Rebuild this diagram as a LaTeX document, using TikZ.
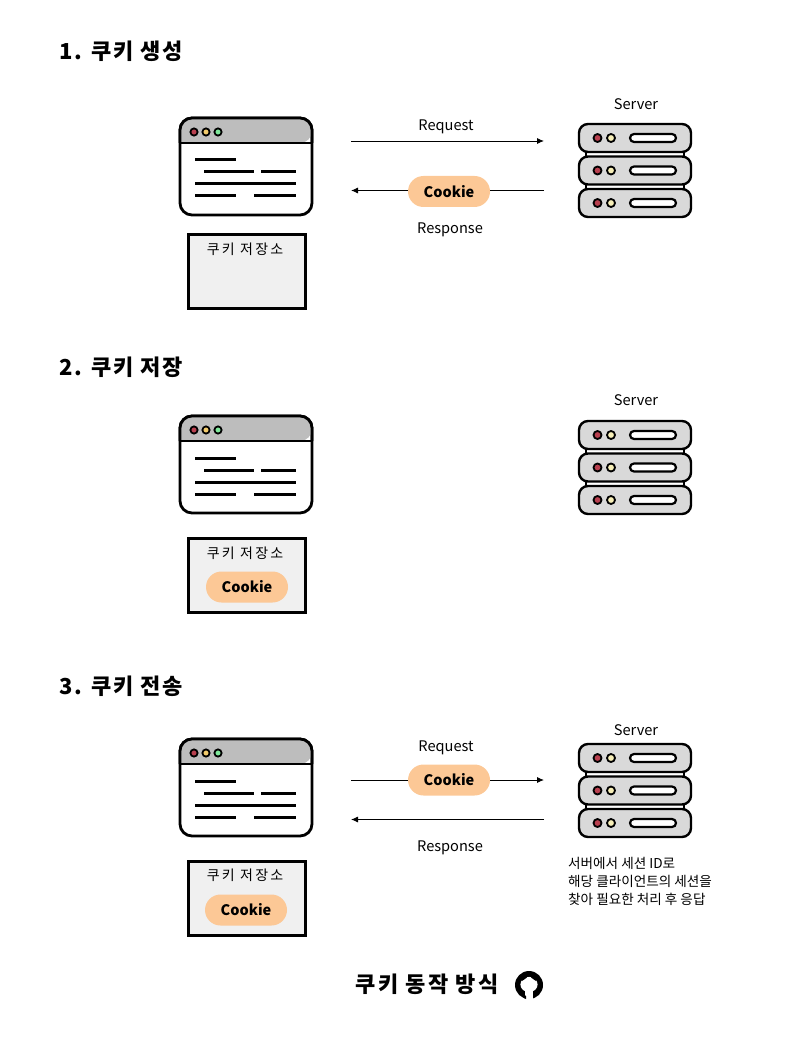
\documentclass[tikz,border=0pt]{standalone}
\usepackage{fontspec}
\setmainfont{Noto Sans CJK KR}
\usetikzlibrary{positioning,arrows.meta}

\definecolor{barGray}{HTML}{BDBDBD}
\definecolor{rackGray}{HTML}{D9D9D9}
\definecolor{boxGray}{HTML}{F0F0F0}
\definecolor{pillOrange}{HTML}{FCC896}
\definecolor{dotRed}{HTML}{B8404F}
\definecolor{dotYellow}{HTML}{F2CB6C}
\definecolor{dotGreen}{HTML}{7FE89B}
\definecolor{dotCream}{HTML}{F7EFB8}

\tikzset{
	heading/.style={anchor=west,font=\fontsize{22}{24}\selectfont\bfseries\addfontfeature{LetterSpace=8}},
	caption/.style={font=\fontsize{14.6}{16}\selectfont},
	storelabel/.style={font=\fontsize{14}{16}\selectfont\addfontfeature{LetterSpace=16}},
	cookie/.style={ % 쿠키 알약 모양
			fill=pillOrange,rounded corners=15.5pt,minimum width=82pt,minimum height=31pt,
			inner sep=0pt,font=\fontsize{14.5}{16}\selectfont\bfseries
		},
	store/.style={
			draw,line width=2.1pt,fill=boxGray,minimum width=117pt,minimum height=74pt,inner sep=0pt
		},
	flow/.style={line width=0.9pt,-{Latex[length=7pt,width=6pt]}},
	textline/.style={line width=3pt},
	% 브라우저 창
	browser/.pic={
			\draw[line width=2.8pt,fill=white,rounded corners=12pt] (0,0) rectangle (132,97);
			\fill[barGray,rounded corners=12pt] (0,25) -- (0,0) -- (132,0) -- (132,25) [sharp corners] -- cycle;
			\draw[line width=2.8pt,rounded corners=12pt] (0,25) -- (0,0) -- (132,0) -- (132,25);
			\draw[line width=2.6pt] (0,25) -- (132,25);
			\draw[line width=1.8pt,fill=dotRed] (14,14) circle (3.6);
			\draw[line width=1.8pt,fill=dotYellow] (26,14) circle (3.6);
			\draw[line width=1.8pt,fill=dotGreen] (38,14) circle (3.6);
			\draw[textline] (15,42) -- (56,42);
			\draw[textline] (24,54) -- (74,54) (81,54) -- (116,54);
			\draw[textline] (15,66) -- (116,66);
			\draw[textline] (15,78) -- (56,78) (74,78) -- (116,78);
		},
	% 서버 랙
	server/.pic={
			\draw[line width=2pt] (7,28) -- (7,33) (105,28) -- (105,33) (7,60) -- (7,65) (105,60) -- (105,65);
			\foreach \rack in {0,32.5,65}{
					\draw[line width=2.4pt,fill=rackGray,rounded corners=9pt] (0,\rack) rectangle (112,\rack+28);
					\draw[line width=1.8pt,fill=dotRed] (18.5,\rack+14) circle (4);
					\draw[line width=1.8pt,fill=dotCream] (32,\rack+14) circle (4);
					\draw[line width=2.2pt,fill=white,rounded corners=4pt] (51,\rack+10) rectangle (97,\rack+18);
				}
		}
}

\begin{document}
\begin{tikzpicture}[x=1pt,y=-1pt]
	\useasboundingbox (0,0) rectangle (794,1040);

	% 1. 쿠키 생성
	\node[heading] (t1) at (56,51) {1. 쿠키 생성};
	\pic at (180,118) {browser};
	\pic at (579,124) {server};
	\node[caption] (s1) at (636,104) {Server};
	\node[store] (b1) at (247,271.5) {};
	\node[storelabel,below=5.5pt of b1.north,xshift=-2pt] (bl1) {쿠키 저장소};
	\coordinate (ca1) at (351,141);
	\coordinate (sa1) at (544,141);
	\coordinate (sb1) at (544,190.5);
	\coordinate (cb1) at (351,190.5);
	\draw[flow] (ca1) -- (sa1);
	\draw[flow] (sb1) -- (cb1);
	\node[cookie] (k1) at (449,191.5) {Cookie};
	\node[caption] (rq1) at (446,126.5) {Request};
	\node[caption] (rs1) at (450,229.5) {Response};

	% 2. 쿠키 저장
	\node[heading] (t2) at (56,367) {2. 쿠키 저장};
	\pic at (180,416) {browser};
	\pic at (579,421) {server};
	\node[caption] (s2) at (636,400) {Server};
	\node[store] (b2) at (247,575.5) {};
	\node[storelabel,below=5.5pt of b2.north,xshift=-2pt] (bl2) {쿠키 저장소};
	\node[cookie] (k2) at (247,587) {Cookie};

	% 3. 쿠키 전송
	\node[heading] (t3) at (56,686) {3. 쿠키 전송};
	\pic at (180,739) {browser};
	\pic at (579,744) {server};
	\node[caption] (s3) at (636,730) {Server};
	\node[store] (b3) at (247,898.5) {};
	\node[storelabel,below=4.5pt of b3.north,xshift=-2pt] (bl3) {쿠키 저장소};
	\node[cookie] (k3) at (246,910) {Cookie};
	\coordinate (ca3) at (351,780);
	\coordinate (sa3) at (544,780);
	\coordinate (sb3) at (544,819.5);
	\coordinate (cb3) at (351,819.5);
	\draw[flow] (ca3) -- (sa3);
	\draw[flow] (sb3) -- (cb3);
	\node[cookie] (k4) at (449,780) {Cookie};
	\node[caption] (rq3) at (446,747.5) {Request};
	\node[caption] (rs3) at (450,847.5) {Response};
	\node[anchor=west,align=left,inner sep=0pt,font=\fontsize{13.6}{18}\selectfont] (n3) at (568,881.5)
	{서버에서 세션 ID로\\해당 클라이언트의 세션을\\찾아 필요한 처리 후 응답};

	% 하단 제목과 아이콘
	\node[heading,anchor=center,font=\fontsize{22}{24}\selectfont\bfseries\addfontfeature{LetterSpace=10}] (t4) at (427,984) {쿠키 동작 방식};
	\fill (529,985) circle (14);
	\fill[white] (529,984.5) ellipse (8.6 and 7.6);
	\fill[white] (525,988) rectangle (533,999);
	\fill (521,974) -- (522,981) -- (527,977.5) -- cycle;
	\fill (537,974) -- (536,981) -- (531,977.5) -- cycle;
	\fill (521,992) .. controls (524,995) and (525,995) .. (526,996) -- (526,999) -- (524,998) -- cycle;
\end{tikzpicture}
\end{document}
